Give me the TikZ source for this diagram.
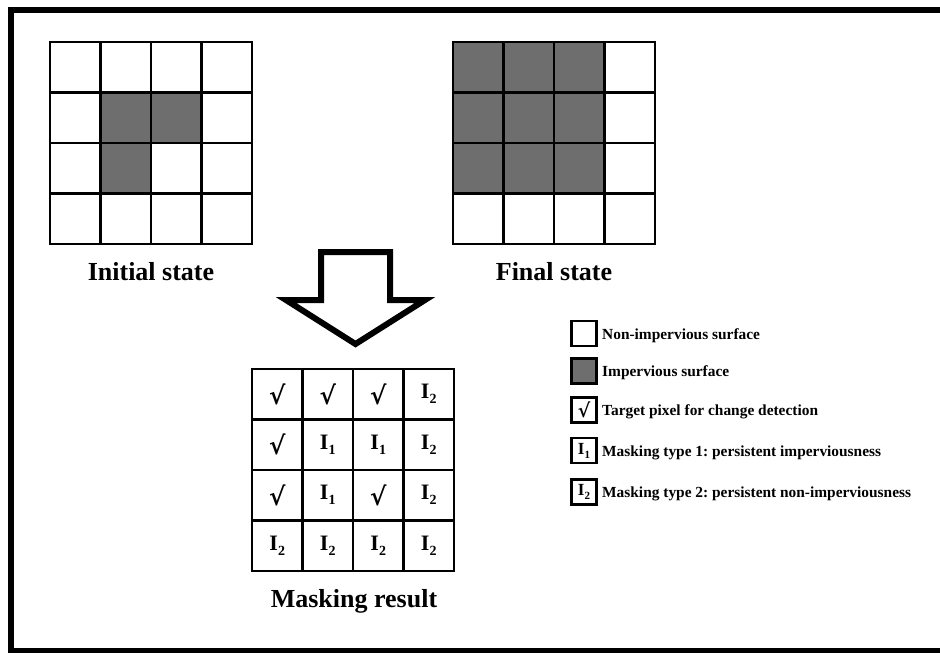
\documentclass[tikz,border=0pt]{standalone}
\usepackage{fontspec}
\setmainfont{Liberation Serif}
\newfontfamily\chkfont{DejaVu Serif}
\definecolor{imp}{RGB}{110,110,110}
\newcommand{\Isub}[2][5pt]{I\kern0.2pt\raisebox{-#1}{\fontsize{14}{14}\selectfont #2}}
\newcommand{\Ismall}[1]{I\kern0.2pt\raisebox{-4pt}{\fontsize{11}{11}\selectfont #1}}
\newcommand{\chk}{{\chkfont\bfseries\fontsize{25}{26}\selectfont √}}
\newcommand{\chksmall}{{\chkfont\bfseries\fontsize{19}{20}\selectfont √}}
\tikzset{
  cell/.style={draw, line width=2.4pt, minimum size=50.5pt, inner sep=0pt, outer sep=0pt,
    font=\fontsize{22}{24}\selectfont\bfseries},
  gray cell/.style={cell, fill=imp},
  title/.style={anchor=base, font=\fontsize{26}{30}\selectfont\bfseries},
  legbox/.style={draw, line width=2.4pt, minimum size=25pt, inner sep=0pt,
    font=\fontsize{17}{18}\selectfont\bfseries},
  legtext/.style={anchor=base west, inner sep=0pt, font=\fontsize{15.4}{17}\selectfont\bfseries},
  bigarrow/.style={draw, line width=6pt, line join=miter, fill=white}
}
\begin{document}
\frenchspacing
\begin{tikzpicture}[x=1pt, y=-1pt]
\useasboundingbox (0,0) rectangle (940,653);
\clip (0,0) rectangle (940,653);
\draw[line width=6pt] (10.5,10) rectangle (946,651);

% Initial state grid
\foreach \r in {0,...,3} {
  \foreach \c in {0,...,3} {
    \node[cell] (a-\r-\c) at ({50+50.5*(\c+0.5)}, {42+50.5*(\r+0.5)}) {};
  }
}
\foreach \r/\c in {1/1,1/2,2/1} {
  \node[gray cell] (ag-\r-\c) at ({50+50.5*(\c+0.5)}, {42+50.5*(\r+0.5)}) {};
}
\node[title] (tinit) at (151,280) {Initial state};

% Final state grid
\foreach \r in {0,...,3} {
  \foreach \c in {0,...,3} {
    \node[cell] (b-\r-\c) at ({453+50.5*(\c+0.5)}, {42+50.5*(\r+0.5)}) {};
  }
}
\foreach \r in {0,1,2} {
  \foreach \c in {0,1,2} {
    \node[gray cell] (bg-\r-\c) at ({453+50.5*(\c+0.5)}, {42+50.5*(\r+0.5)}) {};
  }
}
\node[title] (tfinal) at (554,280) {Final state};

% Big hollow arrow
\draw[bigarrow] (321,252) -- (390,252) -- (390,300) -- (425,300) -- (355.5,344)
  -- (286,300) -- (321,300) -- cycle;

% Masking result grid
\foreach \r/\c/\t in {0/0/{\chk},0/1/{\chk},0/2/{\chk},0/3/{\Isub{2}},
                      1/0/{\chk},1/1/{\Isub{1}},1/2/{\Isub{1}},1/3/{\Isub{2}},
                      2/0/{\chk},2/1/{\Isub{1}},2/2/{\chk},2/3/{\Isub{2}},
                      3/0/{\Isub{2}},3/1/{\Isub{2}},3/2/{\Isub{2}},3/3/{\Isub{2}}} {
  \node[cell] (m-\r-\c) at ({252+50.5*(\c+0.5)}, {369+50.5*(\r+0.5)}) {\t};
}
\node[title] (tmask) at (354,607) {Masking result};

% Legend
\node[legbox] (l1) at (584,333.5) {};
\node[legtext] (lt1) at (602,339) {Non-impervious surface};
\node[legbox, fill=imp] (l2) at (584,371) {};
\node[legtext] (lt2) at (602,376.5) {Impervious surface};
\node[legbox] (l3) at (584,410) {\chksmall};
\node[legtext] (lt3) at (602,415.5) {Target pixel for change detection};
\node[legbox] (l4) at (584,450.5) {\Ismall{1}};
\node[legtext] (lt4) at (602,456) {Masking type 1: persistent imperviousness};
\node[legbox] (l5) at (584,492) {\Ismall{2}};
\node[legtext] (lt5) at (602,497.5) {Masking type 2: persistent non-imperviousness};
\end{tikzpicture}
\end{document}
